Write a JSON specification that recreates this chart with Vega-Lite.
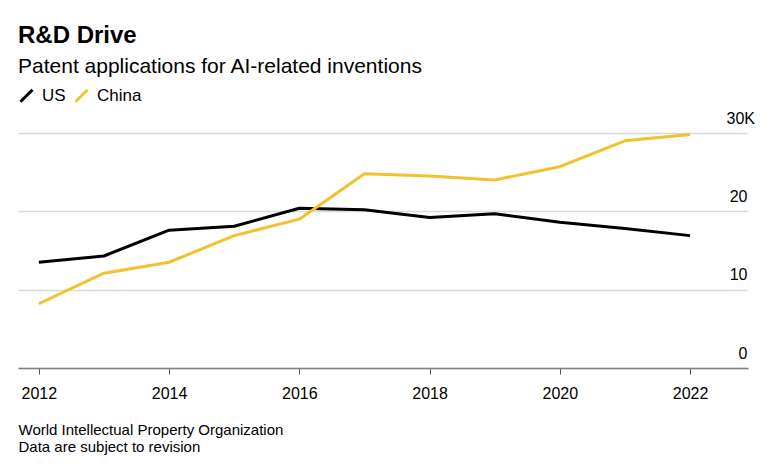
{
  "$schema": "https://vega.github.io/schema/vega-lite/v6.json",
  "width": 730,
  "height": 235,
  "autosize": {"type": "none"},
  "padding": {"left": 18, "top": 133, "right": 35, "bottom": 108},
  "background": "white",
  "title": {
    "text": "R&D Drive",
    "subtitle": "Patent applications for AI-related inventions",
    "anchor": "start",
    "frame": "group",
    "offset": 10,
    "fontSize": 24,
    "fontWeight": "bold",
    "font": "Liberation Sans",
    "color": "#000000",
    "subtitleFont": "Liberation Sans",
    "subtitleFontSize": 21,
    "subtitleColor": "#000000",
    "subtitlePadding": 8
  },
  "config": {
    "font": "Liberation Sans",
    "view": {"stroke": null}
  },
  "data": {
    "values": [
      {"year": 2012, "country": "US", "value": 13.5},
      {"year": 2013, "country": "US", "value": 14.3},
      {"year": 2014, "country": "US", "value": 17.6},
      {"year": 2015, "country": "US", "value": 18.1},
      {"year": 2016, "country": "US", "value": 20.4},
      {"year": 2017, "country": "US", "value": 20.2},
      {"year": 2018, "country": "US", "value": 19.2},
      {"year": 2019, "country": "US", "value": 19.7},
      {"year": 2020, "country": "US", "value": 18.6},
      {"year": 2021, "country": "US", "value": 17.8},
      {"year": 2022, "country": "US", "value": 16.9},
      {"year": 2012, "country": "China", "value": 8.2},
      {"year": 2013, "country": "China", "value": 12.1},
      {"year": 2014, "country": "China", "value": 13.5},
      {"year": 2015, "country": "China", "value": 16.9},
      {"year": 2016, "country": "China", "value": 19.0},
      {"year": 2017, "country": "China", "value": 24.8},
      {"year": 2018, "country": "China", "value": 24.5},
      {"year": 2019, "country": "China", "value": 24.0},
      {"year": 2020, "country": "China", "value": 25.7},
      {"year": 2021, "country": "China", "value": 29.0},
      {"year": 2022, "country": "China", "value": 29.8}
    ]
  },
  "mark": {"type": "line", "strokeWidth": 3, "strokeJoin": "round"},
  "encoding": {
    "x": {
      "field": "year",
      "type": "quantitative",
      "scale": {"domain": [2011.68, 2022.89], "nice": false, "zero": false},
      "axis": {
        "values": [2012, 2014, 2016, 2018, 2020, 2022],
        "format": "d",
        "grid": false,
        "domainColor": "#808080",
        "domainWidth": 1.5,
        "tickColor": "#555555",
        "tickSize": 6,
        "tickWidth": 1,
        "labelFontSize": 16,
        "labelColor": "#000000",
        "labelPadding": 11,
        "labelFont": "Liberation Sans",
        "title": ["World Intellectual Property Organization", "Data are subject to revision"],
        "titleFontSize": 15,
        "titleFontWeight": "normal",
        "titleColor": "#000000",
        "titleFont": "Liberation Sans",
        "titleAlign": "left",
        "titleAnchor": "start",
        "titleBaseline": "alphabetic",
        "titleX": 0,
        "titleY": 66,
        "titleLineHeight": 17
      }
    },
    "y": {
      "field": "value",
      "type": "quantitative",
      "scale": {"domain": [0, 30], "nice": false},
      "axis": {
        "orient": "right",
        "values": [0, 10, 20, 30],
        "labelExpr": "datum.value == 30 ? '30K' : datum.label",
        "domain": false,
        "ticks": false,
        "gridColor": "#d9d9d9",
        "gridWidth": 1.5,
        "labelFontSize": 16,
        "labelColor": "#000000",
        "labelFont": "Liberation Sans",
        "labelAlign": {"condition": {"test": "datum.value == 30", "value": "left"}, "value": "right"},
        "labelPadding": {"condition": {"test": "datum.value == 30", "value": -22}, "value": -1},
        "labelBaseline": "alphabetic",
        "labelOffset": -10,
        "title": null
      }
    },
    "color": {
      "field": "country",
      "type": "nominal",
      "scale": {"domain": ["US", "China"], "range": ["#000000", "#f2c12e"]},
      "legend": {
        "title": null,
        "orient": "none",
        "direction": "horizontal",
        "legendX": 0,
        "legendY": -46,
        "symbolType": "M-1,1L1,-1",
        "symbolSize": 144,
        "symbolStrokeWidth": 3,
        "labelFontSize": 17,
        "labelColor": "#000000",
        "labelFont": "Liberation Sans",
        "labelOffset": 7,
        "columnPadding": 3
      }
    }
  }
}
